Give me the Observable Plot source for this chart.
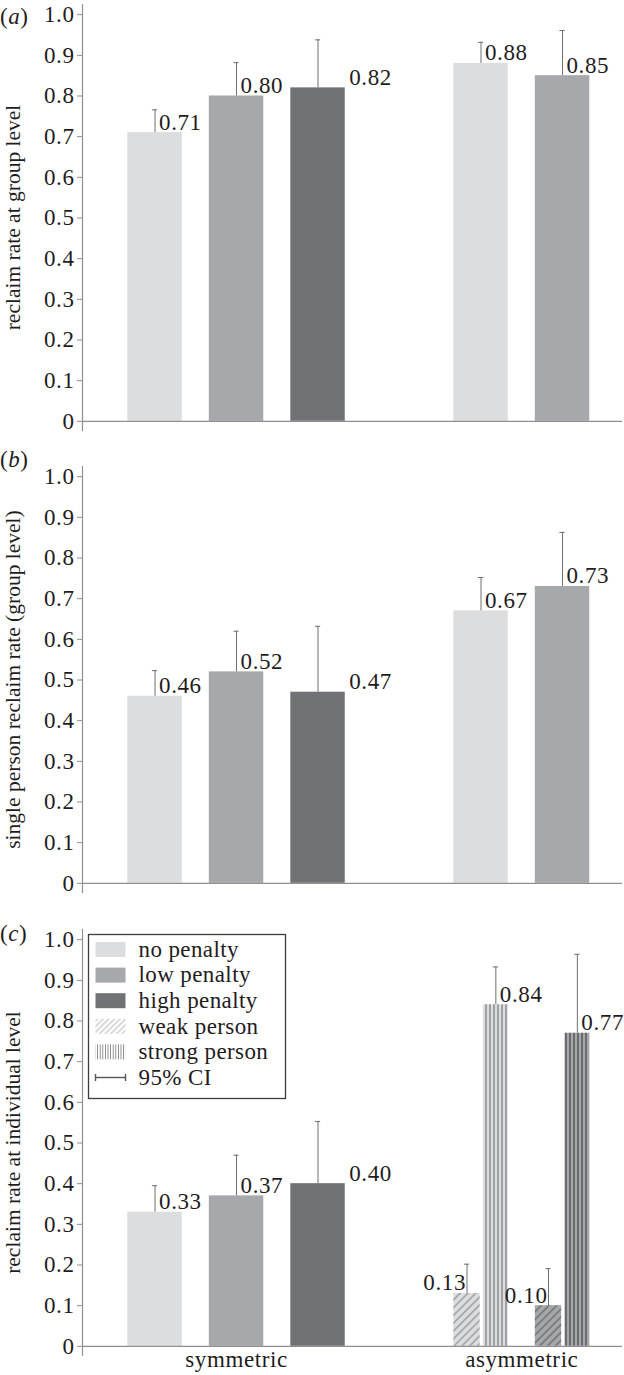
<!DOCTYPE html>
<html><head><meta charset="utf-8">
<script src="https://cdn.jsdelivr.net/npm/d3@7"></script>
<script src="https://cdn.jsdelivr.net/npm/@observablehq/plot@0.6"></script>
<style>
body{margin:0;background:#fff;}
#chart{width:624px;}
#chart svg{display:block;overflow:visible;}
#chart svg text{fill:#1f1c1d;}
</style></head><body><div id="chart"></div>
<script>
// ---------- data ----------
const conditions = ["symmetric", "asymmetric"];
const penalties = ["no penalty", "low penalty", "high penalty"];
const roles = ["weak person", "strong person"];
const yTicks = [0, 0.1, 0.2, 0.3, 0.4, 0.5, 0.6, 0.7, 0.8, 0.9, 1.0];

// (a) reclaim rate at group level
const aCondition = ["symmetric", "symmetric", "symmetric", "asymmetric", "asymmetric"];
const aPenalty = ["no penalty", "low penalty", "high penalty", "no penalty", "low penalty"];
const aRate = [0.71, 0.80, 0.82, 0.88, 0.85];
const aUpper = [0.766, 0.882, 0.938, 0.932, 0.961];

// (b) single person reclaim rate (group level)
const bCondition = ["symmetric", "symmetric", "symmetric", "asymmetric", "asymmetric"];
const bPenalty = ["no penalty", "low penalty", "high penalty", "no penalty", "low penalty"];
const bRate = [0.46, 0.52, 0.47, 0.67, 0.73];
const bUpper = [0.523, 0.62, 0.632, 0.752, 0.863];

// (c) reclaim rate at individual level
const cCondition = ["symmetric", "symmetric", "symmetric", "asymmetric", "asymmetric", "asymmetric", "asymmetric"];
const cPenalty = ["no penalty", "low penalty", "high penalty", "no penalty", "no penalty", "low penalty", "low penalty"];
const cRole = [null, null, null, "weak person", "strong person", "weak person", "strong person"];
const cRate = [0.33, 0.37, 0.40, 0.13, 0.84, 0.10, 0.77];
const cUpper = [0.395, 0.47, 0.553, 0.202, 0.933, 0.191, 0.964];

const titles = ["reclaim rate at group level", "single person reclaim rate (group level)", "reclaim rate at individual level"];
const tags = ["a", "b", "c"];

// ---------- style ----------
const penaltyColors = ["#dcdddf", "#a7a8ab", "#717276"];
const axisGrey = "#8f8f8f";
const errGrey = "#6e6e6e";
const xDomain = [0.11, 6.736];
const yDomain = [-0.025, 1.025];
const plotH = 427;
const mTop = 4;
const fmt = d3.format(".2f");
const fontFamily = "'Liberation Serif', 'Times New Roman', Times, serif";

function buildRows(conds, pens, rls, rates, uppers) {
  return rates.map((v, i) => {
    const p = penalties.indexOf(pens[i]);
    const slot = (conds[i] === conditions[0] ? 1 : 5) + p;
    const role = rls ? rls[i] : null;
    let x1 = slot - 0.334, x2 = slot + 0.334;
    if (role === roles[0]) x2 = slot - 0.01;
    if (role === roles[1]) x1 = slot + 0.03;
    const fill = role === roles[0] ? `url(#weak-${p})` : role === roles[1] ? `url(#strong-${p})` : penaltyColors[p];
    const cx = (x1 + x2) / 2;
    const lx = pens[i] === "high penalty" ? x2 : cx;
    return {cond: conds[i], pen: pens[i], role, v, up: uppers[i], x1, x2, cx, lx, slot, fill};
  });
}

function panel(rows, height, showX) {
  const marks = [
    Plot.rect(rows, {x1: "x1", x2: "x2", y1: () => 0, y2: "v", fill: "fill"}),
    Plot.ruleY([0], {stroke: axisGrey, strokeWidth: 1.2}),
    Plot.ruleX([xDomain[0]], {y1: () => yDomain[0], y2: () => yDomain[1], stroke: axisGrey, strokeWidth: 1.2}),
    Plot.ruleX(rows, {x: "cx", y1: "v", y2: "up", stroke: errGrey, strokeWidth: 1}),
    Plot.ruleY(rows, {y: "up", x1: d => d.cx - 0.032, x2: d => d.cx + 0.032, stroke: errGrey, strokeWidth: 1}),
    Plot.text(rows.filter(d => d.role !== roles[0]), {x: "lx", y: "v", text: d => fmt(d.v), textAnchor: "start", lineAnchor: "bottom", dx: 4, dy: -3}),
    Plot.text(rows.filter(d => d.role === roles[0]), {x: "cx", y: "v", text: d => fmt(d.v), textAnchor: "end", lineAnchor: "bottom", dx: -1, dy: -3})
  ];
  if (showX) {
    const groups = conditions.map(c => ({c, x: d3.mean(rows.filter(d => d.cond === c), d => d.slot)}));
    marks.push(Plot.text(groups, {x: "x", y: () => 0, text: "c", lineAnchor: "top", dy: 4}));
  }
  return Plot.plot({
    width: 624, height,
    marginLeft: 82, marginRight: 2, marginTop: mTop, marginBottom: height - mTop - plotH,
    style: {fontFamily, fontSize: "23px", color: axisGrey, background: "#fff", letterSpacing: "0.6px", overflow: "visible"},
    x: {domain: xDomain, axis: null},
    y: {domain: yDomain, ticks: yTicks, tickFormat: d => d === 0 ? "0" : d.toFixed(1), tickSize: 5, tickPadding: 3, label: null},
    color: {type: "identity"},
    marks
  });
}

function decorate(svg, title, tag, tagBaseline) {
  const s = d3.select(svg);
  s.append("text")
    .attr("transform", `translate(20,${mTop + plotH / 2}) rotate(-90)`)
    .attr("text-anchor", "middle")
    .style("font-size", "21.5px").style("letter-spacing", "0px")
    .text(title);
  const t = s.append("text").attr("x", 0).attr("y", tagBaseline).attr("text-anchor", "start")
    .style("font-size", "23px").style("letter-spacing", "0.5px");
  t.append("tspan").text("(");
  t.append("tspan").attr("font-style", "italic").text(tag);
  t.append("tspan").text(")");
}

function addPatterns(svg) {
  const defs = d3.select(svg).insert("defs", ":first-child");
  const hatch = (id, bg, line, size, width, angle) => {
    const p = defs.append("pattern").attr("id", id).attr("patternUnits", "userSpaceOnUse")
      .attr("width", size).attr("height", size);
    if (angle) p.attr("patternTransform", `rotate(${angle})`);
    p.append("rect").attr("width", size).attr("height", size).attr("fill", bg);
    p.append("line").attr("x1", size / 2).attr("x2", size / 2).attr("y1", 0).attr("y2", size)
      .attr("stroke", line).attr("stroke-width", width);
  };
  hatch("weak-0", penaltyColors[0], "#707175", 5.5, 0.9, 45);
  hatch("weak-1", penaltyColors[1], "#4a4b4f", 5.5, 0.9, 45);
  hatch("strong-0", penaltyColors[0], "#7e7f83", 4, 1.3, 0);
  hatch("strong-1", penaltyColors[1], "#4a4b4f", 4, 1.3, 0);
  hatch("weak-lg", "#fff", "#a0a0a0", 4, 0.8, 45);
  hatch("strong-lg", "#fff", "#808080", 2.6, 0.9, 0);
}

function addLegend(svg) {
  const lg = d3.select(svg).append("g").attr("transform", "translate(88.5,9.5)");
  lg.append("rect").attr("width", 197).attr("height", 164).attr("fill", "#fff")
    .attr("stroke", "#3c3c3c").attr("stroke-width", 1.3);
  const items = [
    ...penalties.map((p, i) => ({label: p, fill: penaltyColors[i]})),
    {label: roles[0], fill: "url(#weak-lg)"},
    {label: roles[1], fill: "url(#strong-lg)"},
    {label: "95% CI", ci: true}
  ];
  items.forEach((it, i) => {
    const cy = 15 + i * 25.6;
    if (it.ci) {
      lg.append("line").attr("x1", 7).attr("x2", 37).attr("y1", cy).attr("y2", cy).attr("stroke", "#555").attr("stroke-width", 1.4);
      [7, 37].forEach(x => lg.append("line").attr("x1", x).attr("x2", x).attr("y1", cy - 3.5).attr("y2", cy + 3.5).attr("stroke", "#555").attr("stroke-width", 1.4));
    } else {
      lg.append("rect").attr("x", 7).attr("y", cy - 7.5).attr("width", 30).attr("height", 15).attr("fill", it.fill);
    }
    lg.append("text").attr("x", 50).attr("y", cy).attr("dy", "0.32em").attr("text-anchor", "start")
      .style("font-size", "23px").style("letter-spacing", "0.4px").text(it.label);
  });
}

const chart = document.getElementById("chart");
const rowsA = buildRows(aCondition, aPenalty, null, aRate, aUpper);
const rowsB = buildRows(bCondition, bPenalty, null, bRate, bUpper);
const rowsC = buildRows(cCondition, cPenalty, cRole, cRate, cUpper);

const svgA = panel(rowsA, 462, false);
decorate(svgA, titles[0], tags[0], 24);
const svgB = panel(rowsB, 463, false);
decorate(svgB, titles[1], tags[1], 5);
const svgC = panel(rowsC, 450, true);
addPatterns(svgC);
decorate(svgC, titles[2], tags[2], 16);
addLegend(svgC);
chart.append(svgA, svgB, svgC);
</script></body></html>
